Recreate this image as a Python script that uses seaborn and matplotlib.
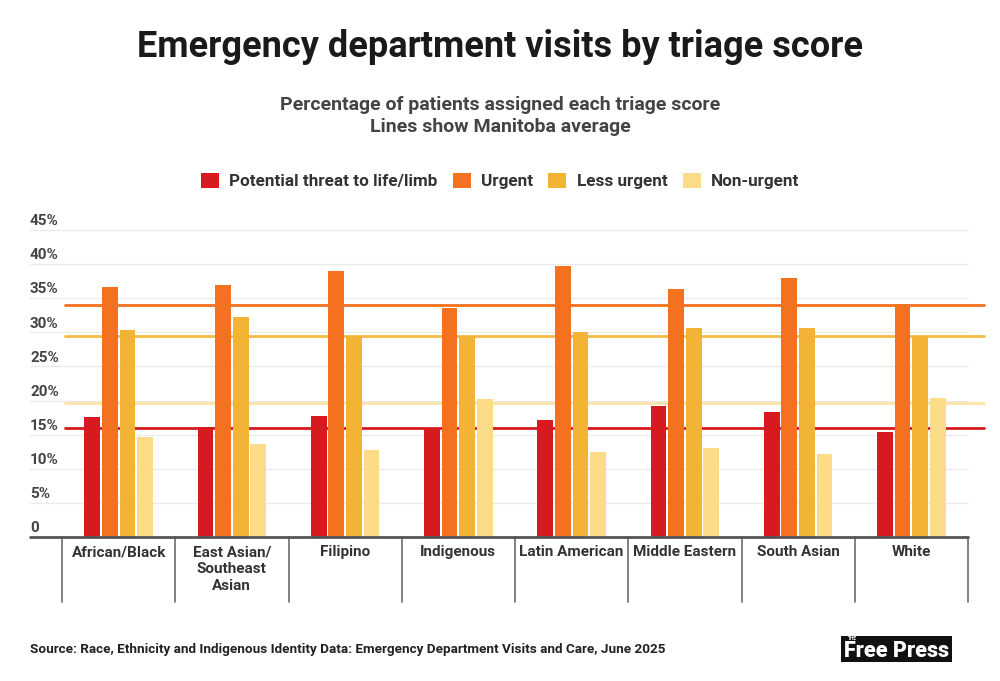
import pandas as pd
import numpy as np
import matplotlib
matplotlib.use('Agg')
import matplotlib.pyplot as plt
import matplotlib.transforms as mtransforms
from matplotlib.patches import Rectangle
import seaborn as sns

# ─── Data ────────────────────────────────────────────────────
groups = ["African/Black", "East Asian/\nSoutheast\nAsian", "Filipino", "Indigenous",
          "Latin American", "Middle Eastern", "South Asian", "White"]
levels = ["Potential threat to life/limb", "Urgent", "Less urgent", "Non-urgent"]

threat = [17.6, 16.1, 17.7, 15.9, 17.2, 19.2, 18.3, 15.4]
urgent = [36.6, 37.0, 39.0, 33.6, 39.7, 36.3, 38.0, 34.1]
less_urgent = [30.4, 32.2, 29.5, 29.5, 30.0, 30.7, 30.6, 29.5]
non_urgent = [14.6, 13.7, 12.8, 20.2, 12.4, 13.1, 12.2, 20.4]

# Manitoba averages (the horizontal lines)
mb_avg = [15.9, 34.0, 29.5, 19.6]

yticks = [0, 5, 10, 15, 20, 25, 30, 35, 40, 45]

colors = ["#d71a20", "#f3711f", "#f3b435", "#fddc89"]
line_colors = ["#d71a20", "#f3711f", "#f2bb45", "#fde4a6"]

df = pd.DataFrame({
    "group": np.repeat(groups, 4),
    "level": levels * len(groups),
    "pct": np.column_stack([threat, urgent, less_urgent, non_urgent]).ravel(),
})

# ─── Plot ────────────────────────────────────────────────────
sns.set_style("white")
plt.rcParams['font.family'] = ['Roboto', 'DejaVu Sans']

fig = plt.figure(figsize=(10, 6.81), dpi=100)
ax = fig.add_axes([0.062, 0.2115, 0.906, 0.4508])

# gridlines + averages behind the bars
for t in yticks[1:]:
    ax.axhline(t, xmin=-0.0353, xmax=1.0, color="#ebebeb", lw=1, zorder=0.2, clip_on=False)
for v, c in zip(mb_avg, line_colors):
    ax.axhline(v, xmin=0.0033, xmax=1.0177, color=c, lw=2, zorder=0.5, clip_on=False)

sns.barplot(data=df, x="group", y="pct", hue="level", palette=colors,
            width=0.62, gap=0.1, saturation=1, linewidth=0, ax=ax, zorder=2)

ax.set_xlim(-0.5, 7.5)
ax.set_ylim(0, 45)
ax.set_xlabel("")
ax.set_ylabel("")
ax.set_yticks([])
sns.despine(ax=ax, left=True, bottom=True)
ax.tick_params(axis='x', length=0, pad=6)
for lab in ax.get_xticklabels():
    lab.set_fontweight('bold')
    lab.set_fontsize(11)
    lab.set_color("#333333")
    lab.set_linespacing(1.25)

# y labels sit above the gridlines
ylab_tr = mtransforms.blended_transform_factory(ax.transAxes, ax.transData)
for t in yticks:
    ax.text(-0.0353, t + 0.25, "0" if t == 0 else f"{t}%", transform=ylab_tr,
            ha='left', va='bottom', fontsize=11, fontweight='bold', color="#444444")

# baseline and category separators
ax.plot([-0.0353, 1.0], [0, 0], transform=ax.transAxes, color="#555555", lw=2, clip_on=False, zorder=3)
sep = mtransforms.blended_transform_factory(ax.transData, ax.transAxes)
for x in np.arange(-0.5, 8, 1):
    ax.plot([x, x], [0, -0.212], transform=sep, color="#777777", lw=1.3, clip_on=False)

sns.move_legend(ax, "center", bbox_to_anchor=(0.5, 1 - 181 / 681), bbox_transform=fig.transFigure,
                ncol=4, frameon=False, title=None, fontsize=12.3, handlelength=1.05, handleheight=1.05,
                columnspacing=0.9, handletextpad=0.6)
for txt in ax.get_legend().get_texts():
    txt.set_fontweight('bold')
    txt.set_color("#333333")

# ─── Titles and footer ───────────────────────────────────────
fig.text(0.5, 1 - 47 / 681, "Emergency department visits by triage score", ha='center', va='center',
         fontsize=26, fontweight='bold', color="#1a1a1a")
fig.text(0.5, 1 - 116 / 681, "Percentage of patients assigned each triage score\nLines show Manitoba average",
         ha='center', va='center', fontsize=14, fontweight='bold', color="#444444", linespacing=1.3)
fig.text(0.03, 1 - 650 / 681,
         "Source: Race, Ethnicity and Indigenous Identity Data: Emergency Department Visits and Care, June 2025",
         ha='left', va='center', fontsize=9.7, fontweight='bold', color="#222222")

fig.patches.append(Rectangle((0.841, 1 - 662 / 681), 0.111, 26 / 681, transform=fig.transFigure,
                             facecolor="#111111", edgecolor="none"))
fig.text(0.8965, 1 - 651 / 681, "Free Press", ha='center', va='center', fontsize=15.5, fontweight='heavy',
         color="white")
fig.text(0.848, 1 - 639 / 681, "THE", ha='left', va='center', fontsize=3.5, fontweight='bold', color="white")

fig.savefig("out.png", dpi=100, facecolor="white")
